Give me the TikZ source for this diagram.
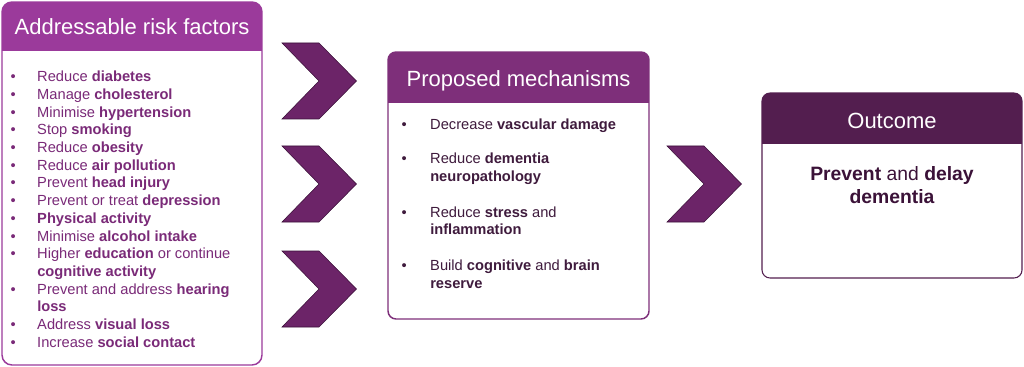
\documentclass[tikz,border=0pt]{standalone}
\usepackage{fontspec}
\setmainfont{Liberation Sans}

\definecolor{riskpurple}{RGB}{155,58,155}
\definecolor{mechpurple}{RGB}{126,47,122}
\definecolor{outpurple}{RGB}{83,30,79}
\definecolor{chevpurple}{RGB}{108,36,104}
\definecolor{chevedge}{RGB}{58,16,56}
\definecolor{risktext}{RGB}{122,42,120}
\definecolor{mechtext}{RGB}{63,27,61}
\definecolor{outtext}{RGB}{59,18,56}

\newcommand{\riskdot}{\makebox[20pt][l]{\textbullet}}
\newcommand{\mechdot}{\makebox[21.5pt][l]{\textbullet}}

\tikzset{
  hdrtext/.style={anchor=base, inner sep=0pt, text=white,
    font=\fontsize{16.5}{19.8}\selectfont},
  riskitem/.style={anchor=base west, inner sep=0pt, text=risktext,
    font=\fontsize{11}{13.3}\selectfont},
  mechitem/.style={anchor=base west, inner sep=0pt, text=mechtext,
    font=\fontsize{11}{13.3}\selectfont},
  outitem/.style={anchor=base, inner sep=0pt, text=outtext,
    font=\fontsize{14.5}{17.5}\selectfont},
  chev/.style={fill=chevpurple, draw=chevedge, line width=0.4pt, line join=miter}
}

\begin{document}
\begin{tikzpicture}[x=0.75pt, y=-0.75pt]
    \useasboundingbox (0,0) rectangle (1024,367);

    \begin{scope}
        \clip[rounded corners=7.5pt] (2,2) rectangle (262,365);
        \fill[white] (2,2) rectangle (262,365);
        \fill[riskpurple] (2,2) rectangle (262,51);
    \end{scope}
    \draw[riskpurple, line width=1.1pt, rounded corners=7.5pt] (2,2) rectangle (262,365);

    \begin{scope}
        \clip[rounded corners=6pt] (388,52) rectangle (649,319);
        \fill[white] (388,52) rectangle (649,319);
        \fill[mechpurple] (388,52) rectangle (649,103);
    \end{scope}
    \draw[mechpurple, line width=1.1pt, rounded corners=6pt] (388,52) rectangle (649,319);

    \begin{scope}
        \clip[rounded corners=6pt] (762,93) rectangle (1022,278);
        \fill[white] (762,93) rectangle (1022,278);
        \fill[outpurple] (762,93) rectangle (1022,144);
    \end{scope}
    \draw[outpurple, line width=0.8pt, rounded corners=6pt] (762,93) rectangle (1022,278);

    \draw[chev] (282,43) -- ++(37,0) -- ++(37.5,38) -- ++(-37.5,38) -- ++(-37,0) -- ++(37,-38) -- cycle;
    \draw[chev] (282,146) -- ++(37,0) -- ++(37.5,38) -- ++(-37.5,38) -- ++(-37,0) -- ++(37,-38) -- cycle;
    \draw[chev] (282,251) -- ++(37,0) -- ++(37.5,38) -- ++(-37.5,38) -- ++(-37,0) -- ++(37,-38) -- cycle;
    \draw[chev] (667,146) -- ++(37,0) -- ++(37.5,38) -- ++(-37.5,38) -- ++(-37,0) -- ++(37,-38) -- cycle;

    \node[hdrtext] (riskhead) at (132,35) {Addressable risk factors};
    \node[hdrtext] (mechhead) at (518.5,86.7) {Proposed mechanisms};
    \node[hdrtext] (outhead) at (892,128.3) {Outcome};

    \node[riskitem] (r1) at (10.3,81.7) {\riskdot Reduce \textbf{diabetes}};
    \node[riskitem] (r2) at (10.3,99.4) {\riskdot Manage \textbf{cholesterol}};
    \node[riskitem] (r3) at (10.3,117.1) {\riskdot Minimise \textbf{hypertension}};
    \node[riskitem] (r4) at (10.3,134.8) {\riskdot Stop \textbf{smoking}};
    \node[riskitem] (r5) at (10.3,152.5) {\riskdot Reduce \textbf{obesity}};
    \node[riskitem] (r6) at (10.3,170.2) {\riskdot Reduce \textbf{air pollution}};
    \node[riskitem] (r7) at (10.3,187.9) {\riskdot Prevent \textbf{head injury}};
    \node[riskitem] (r8) at (10.3,205.6) {\riskdot Prevent or treat \textbf{depression}};
    \node[riskitem] (r9) at (10.3,223.3) {\riskdot \textbf{Physical activity}};
    \node[riskitem] (r10) at (10.3,241.0) {\riskdot Minimise \textbf{alcohol intake}};
    \node[riskitem] (r11) at (10.3,258.7) {\riskdot Higher \textbf{education} or continue};
    \node[riskitem] (r11b) at (37,276.4) {\textbf{cognitive activity}};
    \node[riskitem] (r12) at (10.3,294.1) {\riskdot Prevent and address \textbf{hearing}};
    \node[riskitem] (r12b) at (37,311.8) {\textbf{loss}};
    \node[riskitem] (r13) at (10.3,329.5) {\riskdot Address \textbf{visual loss}};
    \node[riskitem] (r14) at (10.3,347.2) {\riskdot Increase \textbf{social contact}};

    \node[mechitem] (m1) at (401.3,129.3) {\mechdot Decrease \textbf{vascular damage}};
    \node[mechitem] (m2) at (401.3,164) {\mechdot Reduce \textbf{dementia}};
    \node[mechitem] (m2b) at (430,181.7) {\textbf{neuropathology}};
    \node[mechitem] (m3) at (401.3,217.2) {\mechdot Reduce \textbf{stress} and};
    \node[mechitem] (m3b) at (430,234.9) {\textbf{inflammation}};
    \node[mechitem] (m4) at (401.3,270.5) {\mechdot Build \textbf{cognitive} and \textbf{brain}};
    \node[mechitem] (m4b) at (430,288.2) {\textbf{reserve}};

    \node[outitem] (o1) at (892,180.7) {\textbf{Prevent} and \textbf{delay}};
    \node[outitem] (o2) at (892,204) {\textbf{dementia}};
\end{tikzpicture}
\end{document}
